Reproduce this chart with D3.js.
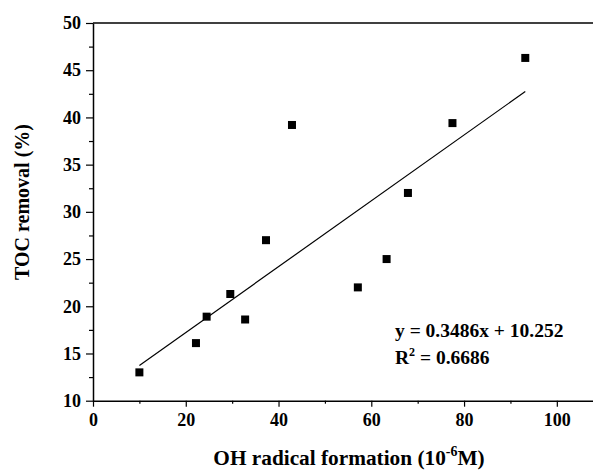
<!DOCTYPE html>
<html>
<head>
<meta charset="utf-8">
<script src="https://cdn.jsdelivr.net/npm/d3@7"></script>
<style>
  body { margin: 0; background: #fff; }
  svg text { font-family: "Liberation Serif", "Times New Roman", serif; font-weight: bold; fill: #000; }
</style>
</head>
<body>
<svg width="593" height="471"></svg>
<script>
// OH radical formation (10^-6 M) vs TOC removal (%)
const ohFormation = [10, 22.2, 24.5, 29.6, 32.8, 37.3, 42.9, 57.1, 63.3, 67.9, 77.5, 93.2];
const tocRemoval  = [13.0, 16.1, 18.9, 21.3, 18.6, 27.0, 39.2, 22.0, 25.0, 32.0, 39.4, 46.3];
const fitSlope = 0.3486;
const fitIntercept = 10.252;
const fitR2 = 0.6686;
const xTicks = [0, 20, 40, 60, 80, 100];
const yTicks = [10, 15, 20, 25, 30, 35, 40, 45, 50];

const svg = d3.select("svg");
const margin = { top: 23, right: 0, bottom: 70, left: 93 };
const width = 593, height = 471;
const chartWidth = width - margin.left - margin.right;
const chartHeight = height - margin.top - margin.bottom - 0.3;

const x = d3.scaleLinear().domain([0, 107.8]).range([0, chartWidth]);
const y = d3.scaleLinear().domain([10, 50]).range([chartHeight, 0]);

const chart = svg.append("g")
  .attr("transform", `translate(${margin.left},${margin.top})`);

// Axes with outward major and minor ticks
const styleAxis = g => {
  g.select(".domain").attr("stroke", "#000").attr("stroke-width", 1.5);
  g.selectAll("line").attr("stroke", "#000").attr("stroke-width", 1.2);
  g.selectAll("text").style("font-size", "18px");
};

chart.append("g")
  .attr("transform", `translate(0,${chartHeight})`)
  .call(d3.axisBottom(x).tickValues(xTicks).tickSize(6).tickSizeOuter(0).tickPadding(7))
  .call(styleAxis);
chart.append("g")
  .attr("transform", `translate(0,${chartHeight})`)
  .call(d3.axisBottom(x).tickValues([10, 30, 50, 70, 90]).tickSize(3).tickFormat("").tickSizeOuter(0))
  .call(g => g.select(".domain").remove())
  .call(styleAxis);

chart.append("g")
  .call(d3.axisLeft(y).tickValues(yTicks).tickSize(7).tickSizeOuter(0).tickPadding(5))
  .call(styleAxis);
chart.append("g")
  .call(d3.axisLeft(y).tickValues([12.5, 17.5, 22.5, 27.5, 32.5, 37.5, 42.5, 47.5]).tickSize(4).tickFormat("").tickSizeOuter(0))
  .call(g => g.select(".domain").remove())
  .call(styleAxis);

// top border
chart.append("line")
  .attr("x1", 0).attr("x2", chartWidth)
  .attr("y1", 0).attr("y2", 0)
  .attr("stroke", "#000").attr("stroke-width", 1.5);

// fitted line
const xFit = d3.extent(ohFormation);
chart.append("line")
  .attr("x1", x(xFit[0])).attr("y1", y(fitSlope * xFit[0] + fitIntercept))
  .attr("x2", x(xFit[1])).attr("y2", y(fitSlope * xFit[1] + fitIntercept))
  .attr("stroke", "#000").attr("stroke-width", 1.2);

// points
const sq = 8;
chart.selectAll("rect.pt")
  .data(ohFormation.map((d, i) => [d, tocRemoval[i]]))
  .join("rect")
  .attr("class", "pt")
  .attr("x", d => x(d[0]) - sq / 2)
  .attr("y", d => y(d[1]) - sq / 2)
  .attr("width", sq).attr("height", sq)
  .attr("fill", "#000");

// equation
const eq = chart.append("g").style("font-size", "19.5px");
eq.append("text")
  .attr("x", 302).attr("y", 314)
  .text(`y = ${fitSlope}x + ${fitIntercept}`);
const r2 = eq.append("text").attr("x", 302).attr("y", 340.5);
r2.append("tspan").text("R");
r2.append("tspan").attr("dy", -8).style("font-size", "12px").text("2");
r2.append("tspan").attr("dy", 8).text(` = ${fitR2}`);

// axis titles
const xt = svg.append("text")
  .attr("x", 349).attr("y", 465)
  .attr("text-anchor", "middle")
  .style("font-size", "21.3px");
xt.append("tspan").text("OH radical formation (10");
xt.append("tspan").attr("dy", -9).style("font-size", "14px").text("-6");
xt.append("tspan").attr("dy", 9).text("M)");

svg.append("text")
  .attr("transform", "translate(28.5,202) rotate(-90)")
  .attr("text-anchor", "middle")
  .style("font-size", "20px")
  .text("TOC removal (%)");
</script>
</body>
</html>
